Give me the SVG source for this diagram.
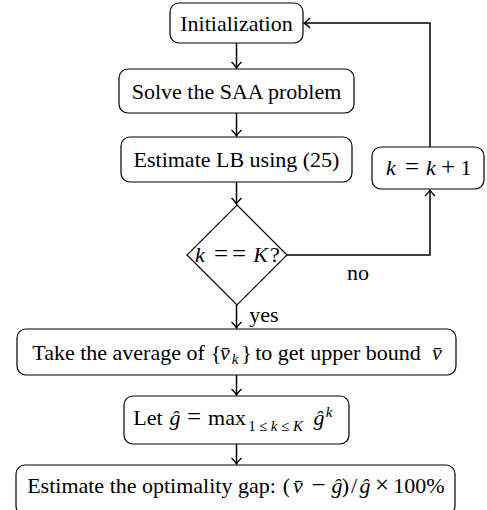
<svg xmlns="http://www.w3.org/2000/svg" width="487" height="510" viewBox="0 0 487 510">
<style>
.box{fill:#fff;stroke:#000;stroke-width:1.2}
.t{font-family:"Liberation Serif","Times New Roman",serif;font-size:22px;fill:#000;text-anchor:middle}
.i{font-style:italic}
.s{font-size:15px}
.o{font-size:25px}
.c{fill:none;stroke:#000;stroke-width:1.5}
</style>
<defs>
<marker id="ah" markerUnits="userSpaceOnUse" markerWidth="12" markerHeight="12" refX="0" refY="0" viewBox="-8 -6 10 12" orient="auto">
<path d="M-6,-5 Q-2,-1 0,0 Q-2,1 -6,5" fill="none" stroke="#000" stroke-width="1.4"/>
</marker>
</defs>
<rect width="487" height="510" fill="#fff"/>
<g id="connectors">
<line class="c" x1="236.5" y1="43" x2="236.5" y2="68" marker-end="url(#ah)"/>
<line class="c" x1="236.5" y1="113" x2="236.5" y2="136" marker-end="url(#ah)"/>
<line class="c" x1="236.5" y1="182" x2="236.5" y2="204" marker-end="url(#ah)"/>
<line class="c" x1="236.5" y1="305" x2="236.5" y2="328" marker-end="url(#ah)"/>
<line class="c" x1="236.5" y1="375" x2="236.5" y2="395" marker-end="url(#ah)"/>
<line class="c" x1="236.5" y1="444" x2="236.5" y2="464" marker-end="url(#ah)"/>
<polyline class="c" points="287,255 430,255 430,190" marker-end="url(#ah)"/>
<polyline class="c" points="430,147 430,23 304,23" marker-end="url(#ah)"/>
<text class="t" x="358" y="280">no</text>
<text class="t" x="264" y="322">yes</text>
</g>
<g id="init">
<rect class="box" x="170" y="3" width="133" height="40" rx="9"/>
<text class="t" x="236.5" y="31">Initialization</text>
</g>
<g id="solve">
<rect class="box" x="119" y="69" width="235" height="44" rx="9"/>
<text class="t" x="236.5" y="99">Solve the SAA problem</text>
</g>
<g id="estimate">
<rect class="box" x="121" y="137" width="231" height="45" rx="9"/>
<text class="t" x="236.5" y="167">Estimate LB using (25)</text>
</g>
<g id="inc">
<rect class="box" x="372" y="147" width="112" height="42" rx="9"/>
<text class="t" y="175"><tspan class="i" x="391">k</tspan><tspan class="o" x="412">=</tspan><tspan class="i" x="431">k</tspan><tspan class="o" x="448">+</tspan><tspan x="466">1</tspan></text>
</g>
<g id="decision">
<polygon class="box" points="237,205 287,255 237,305 187,255"/>
<text class="t" y="262"><tspan class="i" x="200">k</tspan><tspan class="o" x="221">=</tspan><tspan class="o" x="239">=</tspan><tspan class="i" x="260.5">K</tspan><tspan x="275">?</tspan></text>
</g>
<g id="average">
<rect class="box" x="17" y="329" width="439" height="46" rx="9"/>
<text class="t" y="360"><tspan x="118.5">Take the average of</tspan><tspan x="216">{</tspan><tspan class="i" x="225">v̄</tspan><tspan class="i s" x="235" dy="4">k</tspan><tspan x="246.5" dy="-4">}</tspan><tspan x="338">to get upper bound</tspan><tspan class="i" x="437">v̄</tspan></text>
</g>
<g id="let">
<rect class="box" x="124" y="396" width="225" height="48" rx="9"/>
<text class="t" y="425"><tspan x="148">Let</tspan><tspan class="i" x="175">ĝ</tspan><tspan class="o" x="194">=</tspan><tspan x="227">max</tspan><tspan class="s" x="252" dy="6">1</tspan><tspan class="s" x="263">≤</tspan><tspan class="s i" x="274">k</tspan><tspan class="s" x="285">≤</tspan><tspan class="s i" x="298">K</tspan><tspan class="i" x="319" dy="-6">ĝ</tspan><tspan class="i s" x="329" dy="-8">k</tspan></text>
</g>
<g id="gap">
<rect class="box" x="16" y="465" width="439" height="50" rx="9"/>
<text class="t" y="493"><tspan x="151.5">Estimate the optimality gap:</tspan><tspan x="286.5">(</tspan><tspan class="i" x="298">v̄</tspan><tspan class="o" x="318.5">−</tspan><tspan class="i" x="337">ĝ</tspan><tspan x="345.5">)</tspan><tspan x="354">/</tspan><tspan class="i" x="365">ĝ</tspan><tspan class="o" x="382">×</tspan><tspan x="419">100%</tspan></text>
</g>
</svg>
